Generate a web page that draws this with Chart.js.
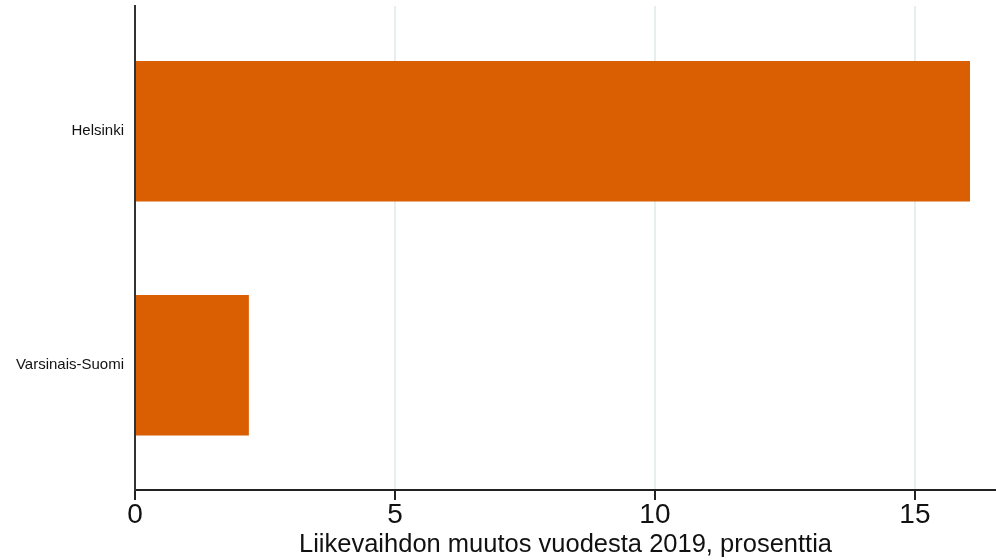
<!DOCTYPE html>
<html>
<head>
<meta charset="utf-8">
<script src="https://cdn.jsdelivr.net/npm/chart.js@4/dist/chart.umd.min.js"></script>
<style>
  html, body { margin: 0; padding: 0; background: #ffffff; }
  #wrap { width: 996px; height: 560px; }
</style>
</head>
<body>
<div id="wrap"><canvas id="c" width="996" height="560"></canvas></div>
<script>
// ---- data ----
const categories = ['Helsinki', 'Varsinais-Suomi'];
const changePct = [16.06, 2.19];
const xTicks = [0, 5, 10, 15];
const axisTitle = 'Liikevaihdon muutos vuodesta 2019, prosenttia';

const n = categories.length;
const points = categories.map((c, i) => ({ x: changePct[i], y: n - 1 - i }));

const FONT = "'Liberation Sans', Arial, sans-serif";

new Chart(document.getElementById('c'), {
  type: 'bar',
  data: {
    datasets: [{
      data: points,
      backgroundColor: '#d95f02',
      borderWidth: 0,
      categoryPercentage: 1,
      barPercentage: 0.6
    }]
  },
  options: {
    indexAxis: 'y',
    responsive: false,
    animation: false,
    devicePixelRatio: 1,
    layout: { padding: { top: 6, left: 0, right: 0, bottom: 0 } },
    plugins: { legend: { display: false }, tooltip: { enabled: false } },
    scales: {
      x: {
        type: 'linear',
        position: 'bottom',
        min: 0,
        max: 16.56,
        afterBuildTicks: (axis) => { axis.ticks = xTicks.map(v => ({ value: v })); },
        afterFit: (axis) => { axis.height = 70; },
        grid: {
          display: true,
          color: '#e6eef0',
          lineWidth: 2,
          drawTicks: true,
          tickLength: 10,
          tickColor: '#222222',
          tickWidth: 2
        },
        border: { display: true, color: '#222222', width: 2 },
        ticks: {
          padding: -2,
          color: '#111111',
          font: { family: FONT, size: 28 },
          maxRotation: 0
        },
        title: {
          display: true,
          text: axisTitle,
          color: '#111111',
          font: { family: FONT, size: 25.5 },
          padding: { top: 0, bottom: 0 }
        }
      },
      y: {
        type: 'linear',
        position: 'left',
        min: -0.533,
        max: 1.535,
        offset: false,
        z: 1,
        afterBuildTicks: (axis) => { axis.ticks = categories.map((c, i) => ({ value: n - 1 - i })); },
        afterFit: (axis) => { axis.width = 135; axis.paddingTop = 0; axis.paddingBottom = 0; },
        grid: { display: false, drawTicks: false, offset: false },
        border: { display: true, color: '#333333', width: 2 },
        ticks: {
          padding: 11,
          color: '#111111',
          font: { family: FONT, size: 15 },
          callback: (value) => categories[n - 1 - value]
        }
      }
    }
  }
});
</script>
</body>
</html>
